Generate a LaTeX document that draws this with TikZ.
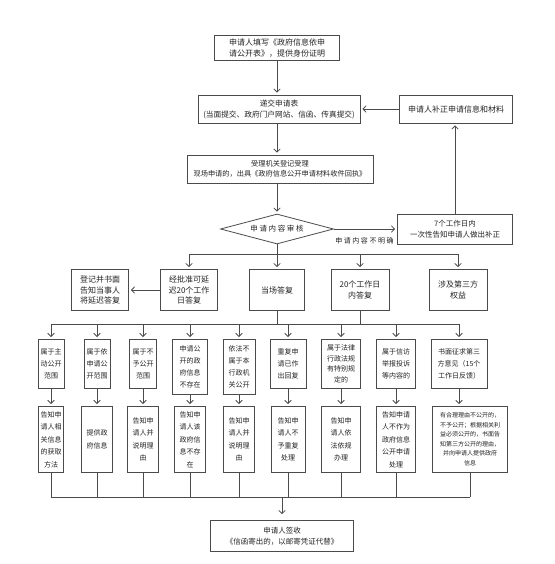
\documentclass[tikz,border=0pt]{standalone}
\usepackage{fontspec}
\setmainfont{Noto Sans CJK SC}
\newfontfamily\letraancha[LetterSpace=22]{Noto Sans CJK SC}
\usepackage{tikz}
\usetikzlibrary{arrows.meta,shapes.geometric}
\definecolor{grisborde}{RGB}{75,75,75}
\definecolor{gristexto}{RGB}{35,35,35}

\begin{document}
\begin{tikzpicture}[x=1pt, y=-1pt, >={Straight Barb[length=3.2pt,width=6.5pt]}, line width=0.8pt,
    caja/.style={draw=grisborde, text=gristexto, align=center, inner sep=1.5pt, font=\fontsize{7}{12}\selectfont},
    caja3/.style={caja, anchor=north, minimum height=49},
    caja4/.style={caja, anchor=north, minimum height=66, font=\fontsize{7}{12.5}\selectfont},
    flecha/.style={->, draw=grisborde, shorten >=2pt},
    linea/.style={draw=grisborde}]
    \useasboundingbox (0,0) rectangle (554,564);
    % solicitud y entrega
    \node[caja, minimum width=125, minimum height=25, font=\fontsize{8}{11}\selectfont] (sol) at (277,48) {申请人填写《政府信息依申\\请公开表》，提供身份证明};
    \node[caja, minimum width=162, minimum height=28, font=\fontsize{7.7}{11}\selectfont] (ent) at (279,109) {递交申请表\\(当面提交、政府门户网站、信函、传真提交)};
    \node[caja, minimum width=186, minimum height=28, font=\fontsize{7.2}{10.5}\selectfont] (acp) at (280,169) {受理机关登记受理\\现场申请的，出具《政府信息公开申请材料收件回执》};
    \node[caja, minimum width=113, minimum height=28, font=\fontsize{8}{11}\selectfont] (bz) at (456,109) {申请人补正申请信息和材料};
    % revision (rombo)
    \node[draw=grisborde, text=gristexto, shape=diamond, aspect=3.8, minimum width=113, minimum height=30, inner sep=1pt, font=\letraancha\fontsize{7.5}{9}\selectfont] (rev) at (277,229) {申请内容审核};
    \node[caja, minimum width=115, minimum height=30, font=\fontsize{7.5}{11}\selectfont] (sie) at (455,229) {7个工作日内\\一次性告知申请人做出补正};
    \node[text=gristexto, anchor=east, inner sep=0pt, font=\letraancha\fontsize{7}{9}\selectfont] (nm) at (394,241) {申请内容不明确};
    % fila 2: tipos de respuesta
    \node[caja, minimum width=57, minimum height=41, font=\fontsize{8}{10.5}\selectfont] (dl) at (100,290) {登记并书面\\告知当事人\\将延迟答复};
    \node[caja, minimum width=57, minimum height=41, font=\fontsize{8}{10.5}\selectfont] (ap) at (189,290) {经批准可延\\迟20个工作\\日答复};
    \node[caja, minimum width=55, minimum height=41, font=\fontsize{8}{10.5}\selectfont] (dc) at (277,290) {当场答复};
    \node[caja, minimum width=58, minimum height=41, font=\fontsize{8}{10.5}\selectfont] (vd) at (360,290) {20个工作日\\内答复};
    \node[caja, minimum width=58, minimum height=41, font=\fontsize{8}{10.5}\selectfont] (tp) at (458,290) {涉及第三方\\权益};
    % fila 3: casos
    \node[caja3, minimum width=26] (c1) at (51,339) {属于主\\动公开\\范围};
    \node[caja3, minimum width=26] (c2) at (97,339) {属于依\\申请公\\开范围};
    \node[caja3, minimum width=27] (c3) at (143,339) {属于不\\予公开\\范围};
    \node[caja3, minimum width=35, minimum height=55] (c4) at (190,339) {申请公\\开的政\\府信息\\不存在};
    \node[caja3, minimum width=32, minimum height=55] (c5) at (239,339) {依法不\\属于本\\行政机\\关公开};
    \node[caja3, minimum width=36] (c6) at (288,339) {重复申\\请已作\\出回复};
    \node[caja3, minimum width=39, font=\fontsize{7}{10.5}\selectfont] (c7) at (341,339) {属于法律\\行政法规\\有特别规\\定的};
    \node[caja3, minimum width=39] (c8) at (396,339) {属于信访\\举报投诉\\等内容的};
    \node[caja3, minimum width=56] (c9) at (459,339) {书面征求第三\\方意见（15个\\工作日反馈）};
    % fila 4: respuestas
    \node[caja4, minimum width=25] (r1) at (51,406) {告知申\\请人相\\关信息\\的获取\\方法};
    \node[caja4, minimum width=31] (r2) at (97,406) {提供政\\府信息};
    \node[caja4, minimum width=31] (r3) at (143,406) {告知申\\请人并\\说明理\\由};
    \node[caja4, minimum width=31] (r4) at (190,406) {告知申\\请人该\\政府信\\息不存\\在};
    \node[caja4, minimum width=31] (r5) at (239,406) {告知申\\请人并\\说明理\\由};
    \node[caja4, minimum width=34] (r6) at (288,406) {告知申\\请人不\\予重复\\处理};
    \node[caja4, minimum width=39] (r7) at (341,406) {告知申\\请人依\\法依规\\办理};
    \node[caja4, minimum width=39] (r8) at (396,406) {告知申请\\人不作为\\政府信息\\公开申请\\处理};
    \node[caja4, minimum width=75, font=\fontsize{6}{9.5}\selectfont] (r9) at (470,406) {有合理理由不公开的，\\不予公开；根据相关利\\益必须公开的，书面告\\知第三方公开的理由，\\并向申请人提供政府\\信息};
    % final
    \node[caja, minimum width=143, minimum height=31, font=\fontsize{7.5}{11}\selectfont] (fin) at (282,536) {申请人签收\\《信函寄出的，以邮寄凭证代替》};
    % ramas
    \coordinate (ramA) at (0,254);
    \coordinate (ramB) at (0,324);
    \coordinate (ramC) at (0,497);
    % flujo principal
    \draw[flecha] (sol.south) -- (sol.south |- ent.north);
    \draw[flecha] (ent.south -| sol) -- (acp.north -| sol);
    \draw[flecha] (acp.south -| sol) -- (rev.north);
    \draw[flecha] (rev.east) -- (sie.west);
    \draw[flecha] (sie.north) -- (sie.north |- bz.south);
    \draw[flecha] (bz.west) -- (bz.west -| ent.east);
    % reparto a fila 2
    \draw[linea] (rev.south) -- (rev.south |- ramA);
    \draw[linea] (ap.north |- ramA) -- (tp.north |- ramA);
    \foreach \n in {ap,dc,vd,tp} \draw[flecha] (\n.north |- ramA) -- (\n.north);
    \draw[flecha] (ap.west) -- (dl.east);
    % reparto a fila 3
    \draw[linea] (dc.south) -- (dc.south |- ramB);
    \draw[linea] (vd.south) -- (vd.south |- ramB);
    \draw[linea] (c1.north |- ramB) -- (c9.north |- ramB);
    \foreach \n in {1,...,9} \draw[flecha] (c\n.north |- ramB) -- (c\n.north);
    \foreach \n in {1,...,9} \draw[flecha] (c\n.south) -- (c\n.south |- r\n.north);
    % recogida
    \foreach \n in {1,...,9} \draw[linea] (r\n.south) -- (r\n.south |- ramC);
    \draw[linea] (r1.south |- ramC) -- (r9.south |- ramC);
    \draw[flecha, shorten >=6pt] (fin.north |- ramC) -- (fin.north);
\end{tikzpicture}
\end{document}
